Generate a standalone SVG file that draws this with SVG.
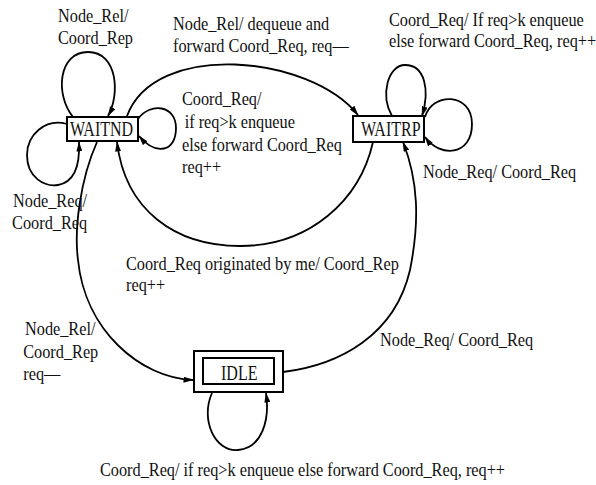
<svg xmlns="http://www.w3.org/2000/svg" width="596" height="485" viewBox="0 0 596 485">
<defs>
<marker id="arr" markerUnits="userSpaceOnUse" markerWidth="10" markerHeight="6" refX="9.5" refY="3" orient="auto">
<path d="M0,0 L10,3 L0,6 z" fill="#000"/>
</marker>
<style>
.lbl{font-family:'Liberation Serif','DejaVu Serif',serif;font-size:18.5px;fill:#111}
.nd{font-family:'Liberation Serif','DejaVu Serif',serif;font-size:20px;fill:#111}
.box{fill:#fff;stroke:#000;stroke-width:2}
.edge{fill:none;stroke:#000;stroke-width:1.8;marker-end:url(#arr)}
</style>
</defs>
<rect width="596" height="485" fill="#fff"/>
<g id="connectors">
<path class="edge" d="M73 117 C55 95,58 52,88 52 C118 52,120 95,108 116"/>
<path class="edge" d="M67 124 C45 118,27 135,27 155 C27 178,45 187,58 185 C75 182,80 165,79 142"/>
<path class="edge" d="M138 119 C150 102,176 105,176 128 C176 152,156 156,139 136"/>
<path class="edge" d="M127 116 C155 40,310 55,358 115"/>
<path class="edge" d="M373 142 C360 200,310 246,240 246 C175 246,125 210,117 142"/>
<path class="edge" d="M97 142 C80 180,74 230,78 260 C85 330,140 378,193 380"/>
<path class="edge" d="M283 372 C340 365,395 335,410 270 C420 220,418 180,403 142"/>
<path class="edge" d="M392 116 C380 95,388 65,405 65 C425 65,430 90,422 116"/>
<path class="edge" d="M425 117 C432 92,472 92,472 124 C472 156,440 158,425 137"/>
<path class="edge" d="M212 393 C200 420,215 452,238 450 C262 448,270 420,266 393"/>
</g>
<g id="WAITND">
<rect class="box" x="67" y="117" width="71" height="24"/>
<text class="nd" transform="translate(70 136) scale(0.8 1)">WAITND</text>
</g>
<g id="WAITRP">
<rect class="box" x="353" y="116" width="71" height="26"/>
<text class="nd" transform="translate(361 136) scale(0.8 1)">WAITRP</text>
</g>
<g id="IDLE">
<rect class="box" x="194" y="351" width="89" height="41" stroke-width="2.5"/>
<rect class="box" x="203" y="358" width="71" height="26"/>
<text class="nd" transform="translate(221 380) scale(0.8 1)">IDLE</text>
</g>
<g id="labels">
<text class="lbl" transform="translate(58 22) scale(0.88 1)"><tspan x="0" y="0">Node_Rel/</tspan><tspan x="0" y="22">Coord_Rep</tspan></text>
<text class="lbl" transform="translate(173 30) scale(0.88 1)"><tspan x="0" y="0">Node_Rel/ dequeue and</tspan><tspan x="0" y="22">forward Coord_Req, req—</tspan></text>
<text class="lbl" transform="translate(389 26) scale(0.88 1)"><tspan x="0" y="0">Coord_Req/ If req&gt;k enqueue</tspan><tspan x="0" y="21">else forward Coord_Req, req++</tspan></text>
<text class="lbl" transform="translate(182 105) scale(0.88 1)"><tspan x="0" y="0">Coord_Req/</tspan><tspan x="3" y="23">if req&gt;k enqueue</tspan><tspan x="0" y="46">else forward Coord_Req</tspan><tspan x="0" y="68">req++</tspan></text>
<text class="lbl" transform="translate(423 178) scale(0.88 1)">Node_Req/ Coord_Req</text>
<text class="lbl" transform="translate(13 207) scale(0.88 1)"><tspan x="0" y="0">Node_Req/</tspan><tspan x="-1" y="22">Coord_Req</tspan></text>
<text class="lbl" transform="translate(126 270) scale(0.88 1)"><tspan x="0" y="0">Coord_Req originated by me/ Coord_Rep</tspan><tspan x="0" y="21">req++</tspan></text>
<text class="lbl" transform="translate(25 335) scale(0.88 1)"><tspan x="0" y="0">Node_Rel/</tspan><tspan x="-2" y="23">Coord_Rep</tspan><tspan x="-2" y="45">req—</tspan></text>
<text class="lbl" transform="translate(380 346) scale(0.88 1)">Node_Req/ Coord_Req</text>
<text class="lbl" transform="translate(100 476) scale(0.88 1)">Coord_Req/ if req&gt;k enqueue else forward Coord_Req, req++</text>
</g>
</svg>
